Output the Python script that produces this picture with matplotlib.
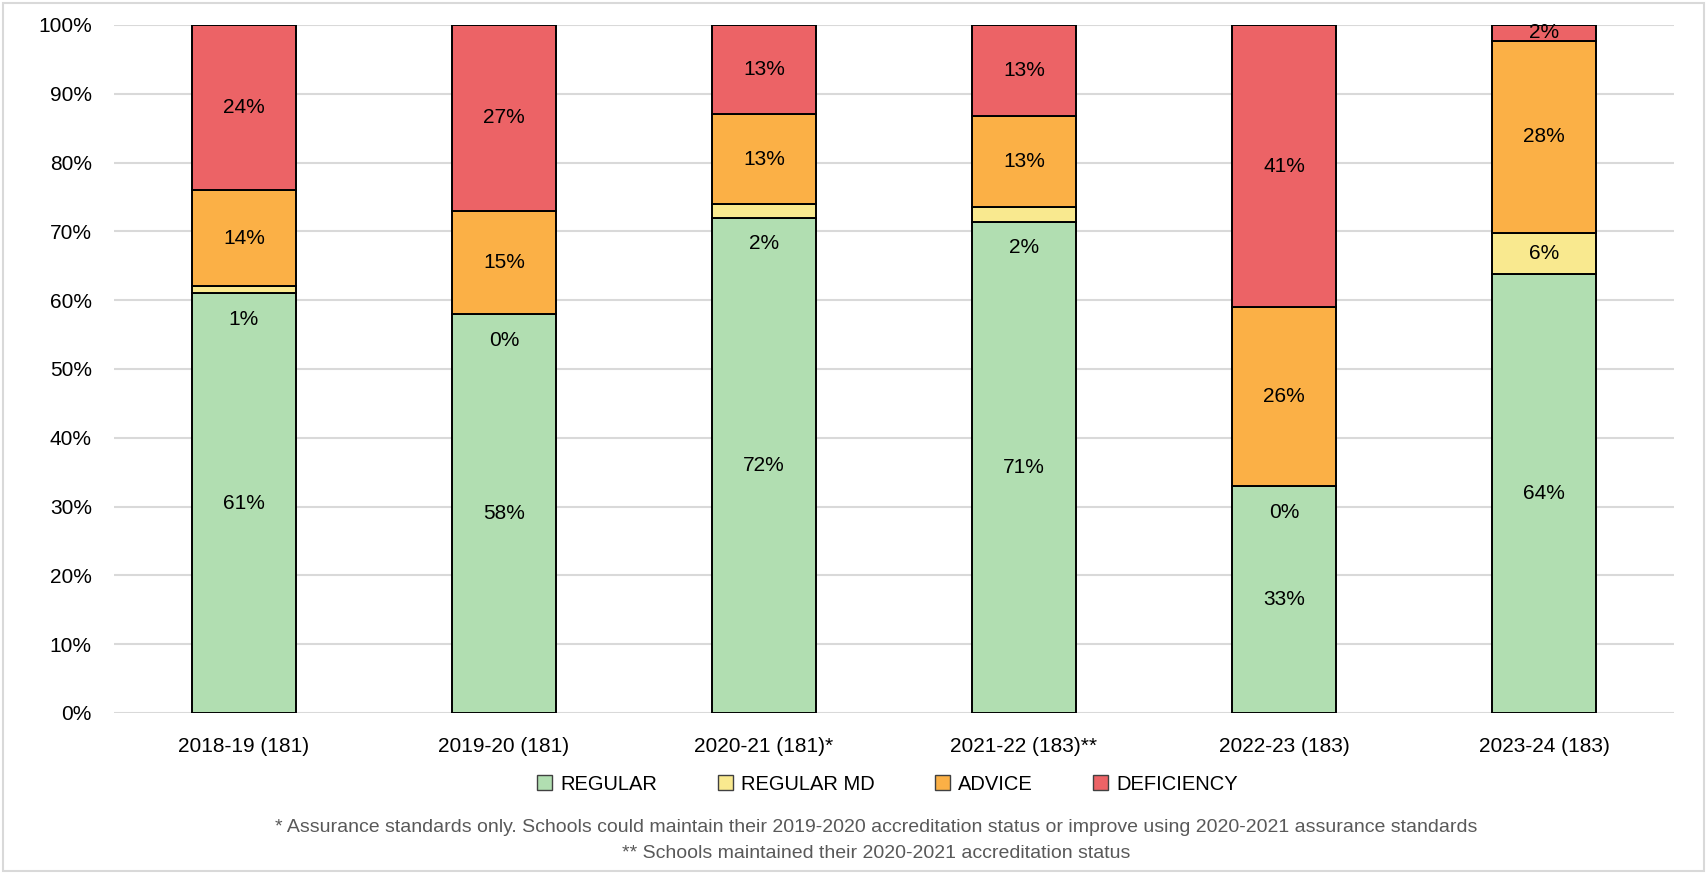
import matplotlib
matplotlib.use("Agg")
import matplotlib.pyplot as plt
from matplotlib.patches import Patch, Rectangle
import numpy as np

plt.rcParams['font.family'] = ['Liberation Sans', 'DejaVu Sans']

# data (percent of schools)
years = ["2018-19 (181)", "2019-20 (181)", "2020-21 (181)*",
         "2021-22 (183)**", "2022-23 (183)", "2023-24 (183)"]
regular = [61, 58, 72, 71.4, 33, 63.8]
regular_md = [1, 0, 2, 2.2, 0, 6.0]
advice = [14, 15, 13, 13.2, 26, 27.9]
deficiency = [24, 27, 13, 13.2, 41, 2.3]

series_names = ["REGULAR", "REGULAR MD", "ADVICE", "DEFICIENCY"]
colors = ["#B1DEB1", "#F9E98F", "#FBB046", "#EC6366"]

footnote1 = ("* Assurance standards only. Schools could maintain their 2019-2020 "
             "accreditation status or improve using 2020-2021 assurance standards")
footnote2 = "** Schools maintained their 2020-2021 accreditation status"

fig = plt.figure(figsize=(17.07, 8.73), dpi=100)
ax = fig.add_axes([114 / 1707, 1 - 713 / 873, 1560 / 1707, 688 / 873])

# light border round the whole chart
fig.patches.append(Rectangle((0.002, 0.002), 0.996, 0.995, transform=fig.transFigure,
                             fill=False, edgecolor="#D9D9D9", linewidth=1.5))

x = np.arange(len(years))
width = 0.4
bottom = np.zeros(len(years))
all_series = [regular, regular_md, advice, deficiency]

for i, (vals, col) in enumerate(zip(all_series, colors)):
    vals = np.array(vals)
    ax.bar(x, vals, width, bottom=bottom, color=col, edgecolor="black",
           linewidth=1.4, zorder=3)
    for j, v in enumerate(vals):
        if i == 1 and v < 4:
            # tiny MD segments: label sits just below the segment
            y = bottom[j] - 3.8
        else:
            y = bottom[j] + v / 2
        ax.text(x[j], y, f"{v:.0f}%", ha="center", va="center",
                fontsize=15, color="black", zorder=4)
    bottom += vals

ax.set_xlim(-0.5, len(years) - 0.5)
ax.set_ylim(0, 100)
ax.set_yticks(np.arange(0, 101, 10))
ax.set_yticklabels([f"{t}%" for t in range(0, 101, 10)])
ax.set_xticks(x)
ax.set_xticklabels(years)
ax.tick_params(axis="y", length=0, pad=16, labelsize=15)
ax.tick_params(axis="x", length=0, pad=17, labelsize=15)
ax.grid(axis="y", color="#D9D9D9", linewidth=1.5, zorder=0)
for s in ax.spines.values():
    s.set_visible(False)

handles = [Patch(facecolor=c, edgecolor="#404040", linewidth=1.0) for c in colors]
fig.legend(handles, series_names, loc="center", bbox_to_anchor=(0.52, 1 - 784 / 873),
           ncol=4, frameon=False, fontsize=14.5, handlelength=0.75, handleheight=0.75,
           handletextpad=0.4, columnspacing=3.0)

fig.text(876 / 1707, 1 - 827 / 873, footnote1, ha="center", va="center",
         fontsize=14, color="#595959")
fig.text(876 / 1707, 1 - 853 / 873, footnote2, ha="center", va="center",
         fontsize=14, color="#595959")

fig.savefig("out.png", dpi=100)
